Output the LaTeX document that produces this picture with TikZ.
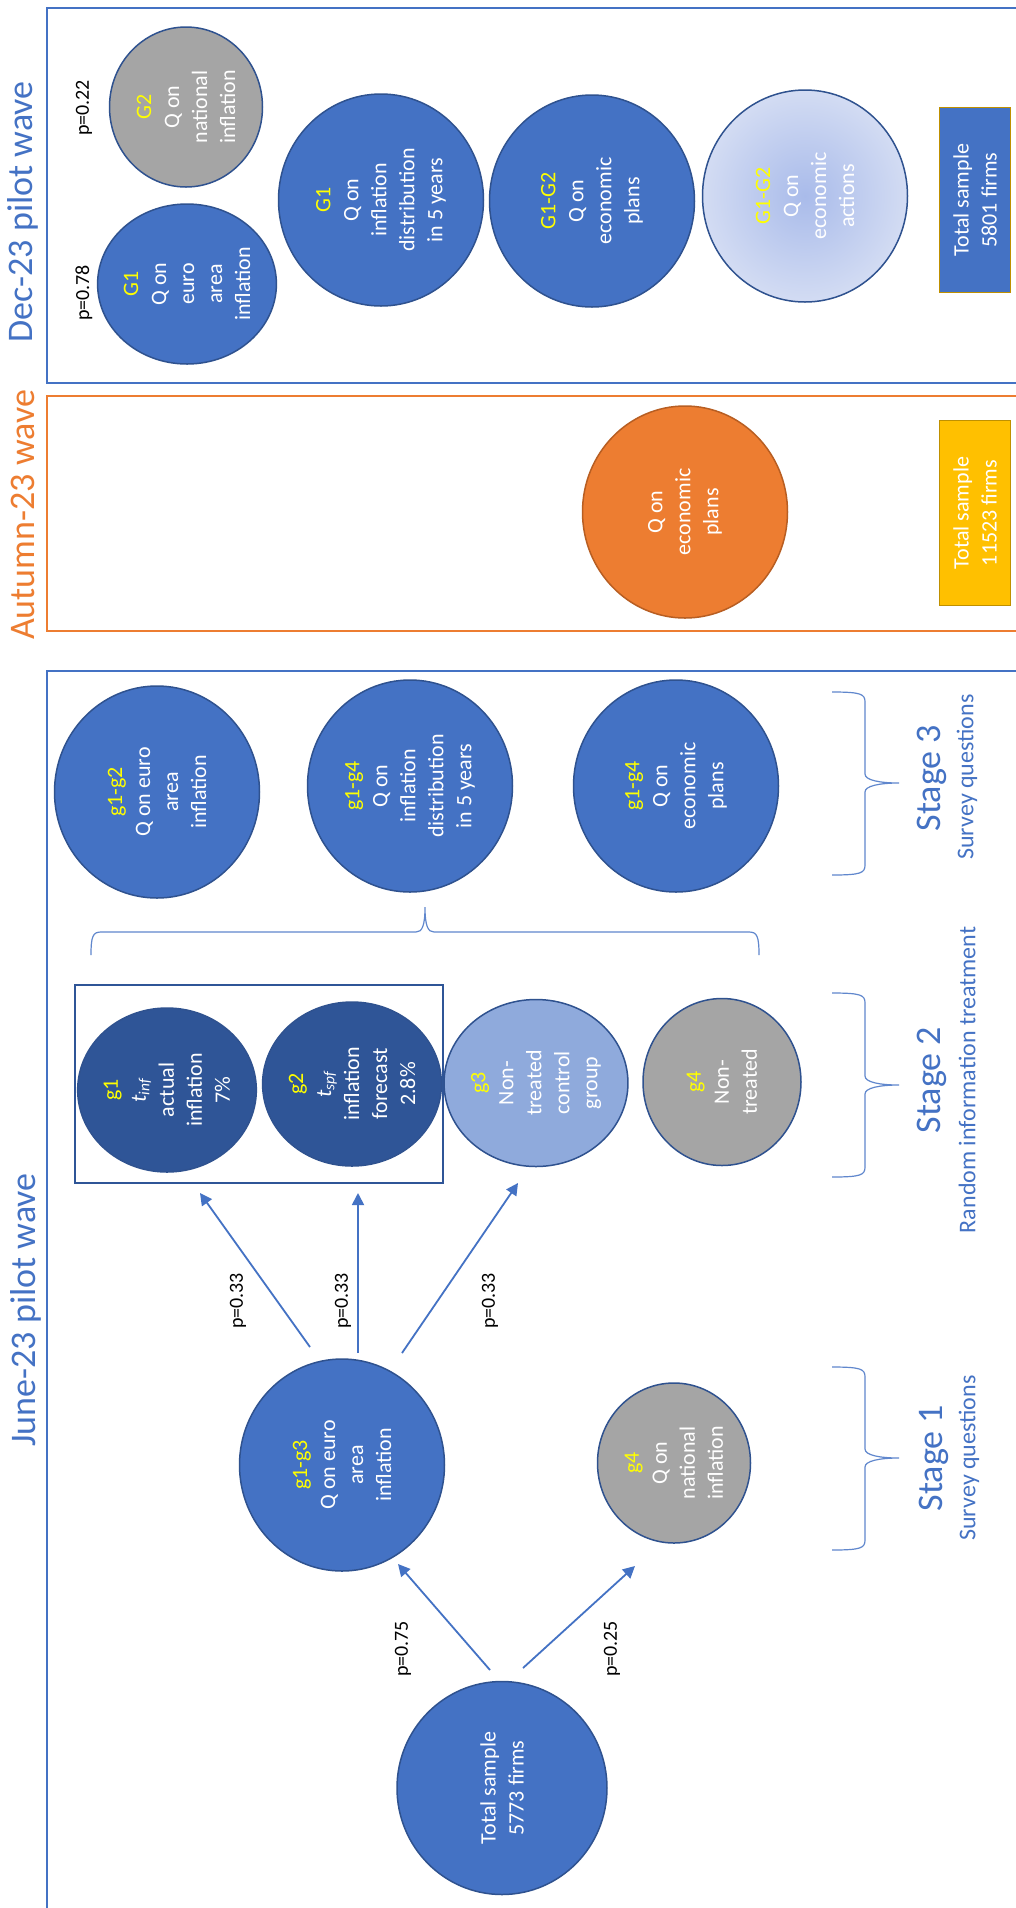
\documentclass[tikz,border=0pt]{standalone}
\usepackage{fontspec}
\setmainfont{Carlito}
\usetikzlibrary{shapes.geometric,arrows.meta,calc}
\definecolor{oblue}{HTML}{4472C4}
\definecolor{oblueb}{HTML}{2F528F}
\definecolor{odark}{HTML}{2F5597}
\definecolor{olight}{HTML}{8FAADC}
\definecolor{ogray}{HTML}{A5A5A5}
\definecolor{oorange}{HTML}{ED7D31}
\definecolor{oorangeb}{HTML}{B85E22}
\definecolor{ogold}{HTML}{FFC000}
\definecolor{ogoldb}{HTML}{BF9000}
\definecolor{ylab}{HTML}{FFFF00}
\definecolor{actin}{HTML}{A9BBEA}
\definecolor{actout}{HTML}{D3DCF3}
\newcommand{\yl}[1]{\textcolor{ylab}{#1}}
\begin{document}
\begin{tikzpicture}[x=0.5pt,y=-0.5pt,
  bub/.style={ellipse, rotate=90, draw=oblueb, line width=0.75pt, fill=oblue, text=white,
    align=center, inner sep=0pt, font=\fontsize{11}{14}\selectfont},
  bigc/.style={minimum width=106pt, minimum height=102.5pt},
  smallc/.style={minimum width=80pt, minimum height=76.5pt},
  treatc/.style={minimum width=82pt, minimum height=77pt},
  ctrlc/.style={minimum width=83.5pt, minimum height=79pt},
  totbox/.style={rectangle, rotate=90, draw=ogoldb, line width=0.9pt, text=white, align=center,
    inner sep=0pt, minimum width=92.5pt, minimum height=35.5pt, font=\fontsize{11}{14}\selectfont},
  ttl/.style={rotate=90, inner sep=0pt, font=\fontsize{18}{22}\selectfont},
  stg/.style={rotate=90, inner sep=0pt, text=oblue, font=\fontsize{18}{22}\selectfont},
  stgsub/.style={rotate=90, inner sep=0pt, text=oblue, font=\fontsize{12}{14}\selectfont},
  plab/.style={rotate=90, inner sep=0pt, font=\fontsize{10}{12}\selectfont},
  arr/.style={draw=oblue, line width=0.9pt, -{Triangle[length=6pt,width=6pt]}},
  frameb/.style={draw=oblue, line width=1pt},
  frameo/.style={draw=oorange, line width=1pt},
  brc/.style={draw=oblue!85, line width=0.6pt}
]
\useasboundingbox (0,0) rectangle (1016,1908);
\clip (0,0) rectangle (1016,1908);
\fill[white] (0,0) rectangle (1016,1908);

% frames
\draw[frameb] (1040,8) -- (47,8) -- (47,383) -- (1040,383);
\draw[frameo] (1040,396) -- (47,396) -- (47,631) -- (1040,631);
\draw[frameb] (1040,671) -- (47,671) -- (47,1930);

% titles
\node[ttl, text=oblue] (tdec) at (23,212) {Dec-23 pilot wave};
\node[ttl, text=oorange] (taut) at (23,515) {Autumn-23 wave};
\node[ttl, text=oblue] (tjun) at (26,1310) {June-23 pilot wave};

% ---------------- Dec-23 pilot wave
\node[plab] (p22) at (84,108) {p=0.22};
\node[plab] (p78) at (84,293) {p=0.78};
\node[bub, smallc, fill=ogray] (dG2) at (186,107) {\yl{G2}\\Q on\\national\\inflation};
\node[bub, smallc] (dG1) at (187,284) {\yl{G1}\\Q on\\euro\\area\\inflation};
\node[bub, bigc] (dDist) at (381,200) {\yl{G1}\\Q on\\inflation\\distribution\\in 5 years};
\node[bub, bigc] (dPlans) at (592,201) {\yl{G1-G2}\\Q on\\economic\\plans};
\node[bub, bigc, fill=none, inner color=actin, outer color=actout] (dAct) at (805,196) {\yl{G1-G2}\\Q on\\economic\\actions};
\node[totbox, fill=oblue] (dTot) at (975,200) {Total sample\\5801 firms};

% ---------------- Autumn-23 wave
\node[bub, bigc, fill=oorange, draw=oorangeb] (aPlans) at (685,512) {Q on\\economic\\plans};
\node[totbox, fill=ogold] (aTot) at (975,513) {Total sample\\11523 firms};

% ---------------- June-23 pilot wave
% stage 3
\node[bub, bigc] (g12) at (157,792) {\yl{g1-g2}\\Q on euro\\area\\inflation};
\node[bub, bigc] (g14d) at (410,786) {\yl{g1-g4}\\Q on\\inflation\\distribution\\in 5 years};
\node[bub, bigc] (g14p) at (676,786) {\yl{g1-g4}\\Q on\\economic\\plans};

% big brace
\draw[brc] (91,955) .. controls (91,936) and (93,932) .. (101,932) -- (416,932)
  .. controls (422,932) and (425,926) .. (425,907)
  .. controls (425,926) and (428,932) .. (434,932) -- (749,932)
  .. controls (757,932) and (759,936) .. (759,955);

% stage 2
\node[draw=odark, line width=1.3pt, minimum width=184pt, minimum height=99pt, inner sep=0pt] (tbox) at (259,1084) {};
\node[bub, treatc, fill=odark] (g1) at (167,1090) {\yl{g1}\\\textit{t}\textsubscript{\textit{inf}}\\actual\\inflation\\7\%};
\node[bub, treatc, fill=odark] (g2) at (352,1084) {\yl{g2}\\\textit{t}\textsubscript{\textit{spf}}\\inflation\\forecast\\2.8\%};
\node[bub, ctrlc, fill=olight] (g3) at (536,1083) {\yl{g3}\\Non-\\treated\\control\\group};
\node[bub, ctrlc, fill=ogray] (g4t) at (722,1082) {\yl{g4}\\Non-\\treated};

% stage 1
\node[bub, bigc] (g13) at (342,1465) {\yl{g1-g3}\\Q on euro\\area\\inflation};
\node[bub, smallc, fill=ogray] (g4n) at (674,1463) {\yl{g4}\\Q on\\national\\inflation};

% total
\node[bub, minimum width=106.5pt, minimum height=105pt] (tot) at (502,1788) {Total sample\\5773 firms};

% arrows
\draw[arr] ($(tot)+(-12,-118)$) -- ($(g13)+(56,99)$);
\draw[arr] ($(tot)+(21,-120)$) -- ($(g4n)+(-39,103)$);
\draw[arr] ($(g13)+(-32,-118)$) -- ($(tbox)+(-59,109)$);
\draw[arr] ($(g13)+(16,-112)$) -- ($(tbox)+(99,109)$);
\draw[arr] ($(g13)+(60,-112)$) -- ($(g3)+(-18,100)$);

% probabilities
\node[plab] (p75) at (403,1649) {p=0.75};
\node[plab] (p25) at (612,1649) {p=0.25};
\node[plab] (p33a) at (238,1301) {p=0.33};
\node[plab] (p33b) at (343,1301) {p=0.33};
\node[plab] (p33c) at (490,1301) {p=0.33};

% stage braces
\draw[brc] (832,692) .. controls (861,692) and (865,694) .. (865,702) -- (865,774)
  .. controls (865,780) and (879,783) .. (899,783)
  .. controls (879,783) and (865,786) .. (865,792) -- (865,865)
  .. controls (865,873) and (861,875) .. (832,875);
\draw[brc] (832,993) .. controls (861,993) and (865,995) .. (865,1003) -- (865,1076)
  .. controls (865,1082) and (879,1085) .. (899,1085)
  .. controls (879,1085) and (865,1088) .. (865,1094) -- (865,1167)
  .. controls (865,1175) and (861,1177) .. (832,1177);
\draw[brc] (832,1367) .. controls (861,1367) and (865,1369) .. (865,1377) -- (865,1449)
  .. controls (865,1455) and (879,1458) .. (899,1458)
  .. controls (879,1458) and (865,1461) .. (865,1467) -- (865,1540)
  .. controls (865,1548) and (861,1550) .. (832,1550);

% stage labels
\node[stg] (s3) at (932,778) {Stage 3};
\node[stgsub] (s3s) at (967,777) {Survey questions};
\node[stg] (s2) at (932,1080) {Stage 2};
\node[stgsub] (s2s) at (967,1080) {Random information treatment};
\node[stg] (s1) at (934,1458) {Stage 1};
\node[stgsub] (s1s) at (969,1458) {Survey questions};
\end{tikzpicture}
\end{document}
